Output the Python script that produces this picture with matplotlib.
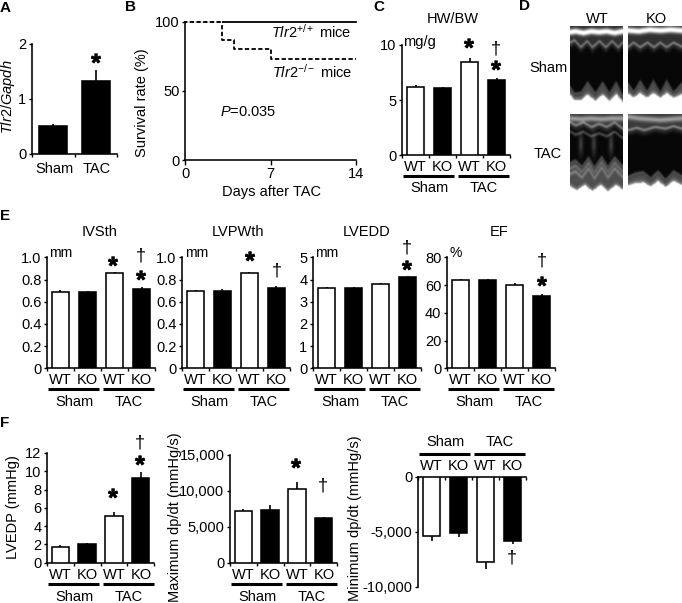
import matplotlib
matplotlib.use("Agg")
import matplotlib.pyplot as plt
import matplotlib.patheffects as pe
import numpy as np

plt.rcParams.update({
    "font.family": ["Liberation Sans", "DejaVu Sans"],
    "font.size": 10.5,
    "mathtext.fontset": "custom",
    "mathtext.rm": "Liberation Sans",
    "mathtext.it": "Liberation Sans:italic",
    "mathtext.bf": "Liberation Sans:bold",
})

W, H = 682, 603
fig = plt.figure(figsize=(W / 100, H / 100), dpi=100, facecolor="white")

# ---------- data ----------
groups = ["Sham", "TAC"]
genotypes = ["WT", "KO", "WT", "KO"]

tlr2_vals = [0.5, 1.33]
tlr2_err = [0.04, 0.19]

surv_days_wt = [0, 14]
surv_wt = [100, 100]
surv_days_ko = [0, 3, 3, 4, 4, 7, 7, 14]
surv_ko = [100, 100, 87, 87, 80, 80, 73.3, 73.3]

hwbw_vals = [6.2, 6.1, 8.5, 6.85]
hwbw_err = [0.15, 0.12, 0.35, 0.15]

ivsth_vals = [0.69, 0.685, 0.86, 0.715]
ivsth_err = [0.015, 0.012, 0.012, 0.015]
lvpwth_vals = [0.695, 0.70, 0.855, 0.72]
lvpwth_err = [0.008, 0.012, 0.014, 0.02]
lvedd_vals = [3.6, 3.6, 3.78, 4.1]
lvedd_err = [0.05, 0.06, 0.06, 0.08]
ef_vals = [63.5, 64, 60, 52]
ef_err = [0.7, 0.7, 1.2, 1.8]

lvedp_vals = [1.75, 2.0, 5.1, 9.25]
lvedp_err = [0.22, 0.14, 0.45, 0.65]
maxdp_vals = [7150, 7300, 10250, 6200]
maxdp_err = [350, 700, 1000, 200]
mindp_vals = [-5400, -5150, -7750, -5800]
mindp_err = [450, 350, 600, 350]

# echo traces (decorative image panels): x, y as fractions of the panel
echo_top = {
    "sw": ([0, .1, .25, .4, .55, .7, .85, 1], [.07, .06, .08, .06, .07, .06, .08, .06]),
    "sk": ([0, .2, .4, .6, .8, 1], [.05, .06, .04, .05, .04, .05]),
    "tw": ([0, .2, .4, .6, .8, 1], [.05, .06, .05, .06, .05, .05]),
    "tk": ([0, .2, .4, .6, .8, 1], [.03, .05, .06, .07, .06, .05]),
}
echo_mid = {
    "sw": ([0, .08, .2, .32, .42, .56, .68, .8, .92, 1], [.2, .17, .26, .18, .26, .18, .26, .18, .26, .2]),
    "sk": ([0, .1, .22, .36, .48, .6, .72, .85, 1], [.25, .2, .26, .2, .26, .2, .26, .2, .25]),
    "tw": ([0, .1, .25, .4, .55, .7, .85, 1], [.1, .14, .1, .16, .12, .16, .1, .18]),
    "tk": ([0, .15, .3, .5, .7, .85, 1], [.2, .17, .2, .16, .18, .15, .18]),
}
echo_low = {
    "sw": ([0, .08, .2, .33, .48, .62, .75, .88, 1], [.76, .84, .83, .7, .84, .7, .84, .7, .86]),
    "sk": ([0, .1, .22, .35, .47, .6, .72, .85, 1], [.72, .82, .68, .82, .68, .83, .68, .83, .72]),
    "tw": ([0, .1, .22, .35, .46, .6, .72, .85, 1], [.62, .59, .67, .55, .68, .54, .67, .55, .66]),
    "tk": ([0, .12, .28, .42, .56, .7, .85, 1], [.8, .76, .74, .82, .73, .84, .73, .79]),
}
echo_base = {
    "sw": ([0, .08, .2, .33, .48, .62, .75, .88, 1], [.86, .92, .92, .85, .93, .85, .93, .84, .94]),
    "sk": ([0, .1, .22, .35, .47, .6, .72, .85, 1], [.84, .89, .83, .89, .83, .89, .83, .89, .85]),
    "tw": ([0, .12, .28, .42, .58, .72, .88, 1], [.92, .97, .9, .98, .9, .98, .9, .96]),
    "tk": ([0, .12, .28, .42, .56, .7, .85, 1], [.91, .88, .87, .92, .85, .93, .85, .9]),
}
echo_columns = {"sw": [], "sk": [], "tw": [.2, .45, .78], "tk": []}

# ---------- helpers ----------
def ptext(x, y, s, size=10.5, **kw):
    kw.setdefault("ha", "center")
    kw.setdefault("va", "center")
    return fig.text(x / W, 1 - y / H, s, fontsize=size, color="black", **kw)

def star(x, y):
    t = fig.text(x / W, 1 - (y + 12) / H, "*", fontsize=18, fontweight="bold",
                 ha="center", va="baseline", color="black")
    t.set_path_effects([pe.withStroke(linewidth=0.5, foreground="black")])

def dagger(x, y):
    ptext(x, y, "\u2020", size=13)

def new_axes(x0, x1, ytop, ybot):
    return fig.add_axes([x0 / W, 1 - ybot / H, (x1 - x0) / W, (ybot - ytop) / H])

def style(ax, n):
    for s in ("top", "right"):
        ax.spines[s].set_visible(False)
    for s in ("left", "bottom"):
        ax.spines[s].set_linewidth(1.15)
    ax.set_xlim(0, n)
    ax.set_xticks(range(n + 1))
    ax.set_xticklabels([])
    ax.tick_params(axis="both", length=2.5, width=1.0, pad=1.5, labelsize=10.5)
    ax.patch.set_alpha(0)

def bars(ax, vals, errs, colors):
    xs = [i + 0.5 for i in range(len(vals))]
    ax.bar(xs, vals, width=0.65, color=colors, edgecolor="black", linewidth=1.15, zorder=3)
    for x, v, e in zip(xs, vals, errs):
        ax.errorbar(x, v, yerr=([0], [e]) if v > 0 else ([e], [0]),
                    color="black", elinewidth=1.2, capsize=0, zorder=2)

four = ["white", "black", "white", "black"]

def group_labels(x0, wt_y, line_y, grp_y):
    dx = 108 / 4
    for i, g in enumerate(genotypes):
        ptext(x0 + dx * (i + 0.5), wt_y, g)
    for a, b in ((1, 52), (56, 107)):
        fig.add_artist(plt.Line2D([(x0 + a) / W, (x0 + b) / W], [1 - line_y / H] * 2,
                                  color="black", lw=2.2, solid_capstyle="butt"))
    ptext(x0 + 27, grp_y, groups[0])
    ptext(x0 + 82, grp_y, groups[1])

def gauss(d, s):
    return np.exp(-0.5 * (d / s) ** 2)

def echo_image(key, w, h):
    x = np.linspace(0, 1, w)[None, :]
    y = np.linspace(0, 1, h)[:, None]
    top = np.interp(x, *echo_top[key])
    mid = np.interp(x, *echo_mid[key])
    low = np.interp(x, *echo_low[key])
    base = np.interp(x, *echo_base[key])
    img = np.full((h, w), 0.03)
    sham = key[0] == "s"
    img += (0.16 if sham else 0.2) * np.clip((mid + 0.04 - y) / 0.08, 0, 1)
    img += (1.0 if sham else 0.4) * gauss(y - top, 0.024)
    img += 0.42 * gauss(y - mid, 0.012) + 0.12 * gauss(y - mid - 0.04, 0.02)
    # posterior wall band
    img += 0.28 * np.clip((y - low) / 0.04, 0, 1) + 0.3 * gauss(y - low, 0.012)
    img += 0.22 * np.clip((y - base + 0.05) / 0.05, 0, 1)
    if key == "tw":
        img += 0.3 * gauss(y - mid - 0.12, 0.012)
        img += 0.22 * gauss(y - low - 0.14, 0.015) + 0.15 * gauss(y - low - 0.07, 0.012)
        for c in echo_columns[key]:
            img += 0.22 * gauss(x - c, 0.03) * gauss(y - 0.38, 0.1)
    img = np.where(y > base, 1.0, img)
    img = np.clip(img, 0, 1)
    # soften with a small box filter, as the scan is blurred
    k = np.array([.25, .5, .25])
    img = np.apply_along_axis(lambda r: np.convolve(np.r_[r[0], r, r[-1]], k, "valid"), 0, img)
    img = np.apply_along_axis(lambda r: np.convolve(np.r_[r[0], r, r[-1]], k, "valid"), 1, img)
    return img

# ---------- A ----------
ptext(5, 8, "A", fontweight="bold", size=11)
ax = new_axes(32, 117, 44, 154)
style(ax, 2)
bars(ax, tlr2_vals, tlr2_err, ["black", "black"])
ax.set_ylim(0, 2)
ax.set_yticks([0, 1, 2])
ptext(8, 97, r"$\mathit{Tlr2/Gapdh}$", rotation=90)
ptext(54, 169, groups[0])
ptext(97, 169, groups[1])
star(96, 59)

# ---------- B ----------
ptext(130, 7, "B", fontweight="bold", size=11)
ax = new_axes(185, 356, 21.7, 160)
style(ax, 14)
ax.set_xticks([0, 7, 14])
ax.set_xticklabels(["0", "7", "14"])
ax.tick_params(axis="x", length=3.5)
ax.set_ylim(0, 100)
ax.set_yticks([0, 50, 100])
ax.plot(surv_days_wt, surv_wt, color="black", lw=1.3, clip_on=False, zorder=3)
ax.plot(surv_days_ko, surv_ko, color="black", lw=1.3, ls=(0, (2.4, 1.3)),
        clip_on=False, zorder=4)
ax.plot(surv_days_ko[:2], surv_ko[:2], color="white", lw=1.3, ls=(2.4, (1.3, 2.4)),
        clip_on=False, zorder=5)
ptext(142, 103, "Survival rate (%)", rotation=90)
ptext(272, 192, "Days after TAC")
ptext(311, 32, r"$\mathit{Tlr2}^{+/+}$ mice")
ptext(312, 72, r"$\mathit{Tlr2}^{-/-}$ mice")
ptext(248, 112, r"$\mathit{P}$=0.035")

# ---------- C ----------
ptext(379, 7, "C", fontweight="bold", size=11)
ax = new_axes(402, 510, 45, 155)
style(ax, 4)
bars(ax, hwbw_vals, hwbw_err, four)
ax.set_ylim(0, 10)
ax.set_yticks([0, 5, 10])
ptext(453, 19, "HW/BW")
ptext(419, 42, "mg/g")
group_labels(402, 167, 176, 188)
star(469, 44)
star(496, 66)
dagger(496, 49)

# ---------- D ----------
ptext(525, 6, "D", fontweight="bold", size=11)
ptext(597, 19, "WT")
ptext(656, 19, "KO")
ptext(548, 68, groups[0])
ptext(548, 154, groups[1])
panels = {"sw": (570, 623, 26, 107), "sk": (628, 682, 26, 107),
          "tw": (570, 623, 114, 193), "tk": (628, 682, 114, 193)}
for key, (x0, x1, y0, y1) in panels.items():
    ax = new_axes(x0, x1, y0, y1)
    ax.imshow(echo_image(key, x1 - x0, y1 - y0), cmap="gray", vmin=0, vmax=1,
              aspect="auto", interpolation="bilinear")
    ax.set_xticks([])
    ax.set_yticks([])
    for s in ax.spines.values():
        s.set_visible(False)

# ---------- E ----------
ptext(5, 216, "E", fontweight="bold", size=11)
ypanels = [
    (47, 100, "IVSth", ivsth_vals, ivsth_err, (0, 1), [0, .2, .4, .6, .8, 1.0], "{:.1f}", "mm", 61),
    (182, 238, "LVPWth", lvpwth_vals, lvpwth_err, (0, 1), [0, .2, .4, .6, .8, 1.0], "{:.1f}", "mm", 197),
    (313, 367, "LVEDD", lvedd_vals, lvedd_err, (0, 5), [0, 1, 2, 3, 4, 5], "{:d}", "mm", 327),
    (447, 499, "EF", ef_vals, ef_err, (0, 80), [0, 20, 40, 60, 80], "{:d}", "%", 456),
]
for x0, tx, title, vals, errs, yl, yt, fmt, unit, ux in ypanels:
    ax = new_axes(x0, x0 + 108, 257.3, 368.3)
    style(ax, 4)
    bars(ax, vals, errs, four)
    ax.set_ylim(*yl)
    ax.set_yticks(yt)
    labs = [fmt.format(v) for v in yt]
    if fmt == "{:.1f}":
        labs[0] = "0"
    ax.set_yticklabels(labs)
    ptext(tx, 232, title)
    ptext(ux, 253, unit, size=10)
    group_labels(x0, 380, 389, 402)
star(113, 262)
star(141, 276)
dagger(141, 256)
star(250, 257)
dagger(277, 271)
star(407, 266)
dagger(407, 248)
star(542, 282)
dagger(542, 261)

# ---------- F ----------
ptext(5, 423, "F", fontweight="bold", size=11)
ax = new_axes(47, 154, 453, 562.7)
style(ax, 4)
bars(ax, lvedp_vals, lvedp_err, four)
ax.set_ylim(0, 12)
ax.set_yticks([0, 2, 4, 6, 8, 10, 12])
ptext(13, 507, "LVEDP (mmHg)", rotation=90)
group_labels(47, 575, 584, 597)
star(113, 494)
star(140, 461)
dagger(140, 443)

ax = new_axes(230, 337, 455, 562.7)
style(ax, 4)
bars(ax, maxdp_vals, maxdp_err, four)
ax.set_ylim(0, 15000)
ax.set_yticks([0, 5000, 10000, 15000])
ax.set_yticklabels(["0", "5,000", "10,000", "15,000"])
ptext(175, 517, "Maximum dp/dt (mmHg/s)", rotation=90)
group_labels(230, 575, 584, 597)
star(296, 464)
dagger(323, 486)

ax = new_axes(418, 526, 476.7, 586.7)
style(ax, 4)
ax.spines["bottom"].set_visible(False)
ax.spines["top"].set_visible(True)
ax.spines["top"].set_linewidth(1.15)
ax.xaxis.tick_top()
ax.tick_params(axis="x", direction="in", length=2.5, width=1.0)
bars(ax, mindp_vals, mindp_err, four)
ax.set_ylim(-10000, 0)
ax.set_yticks([-10000, -5000, 0])
ax.set_yticklabels(["-10,000", "-5,000", "0"])
ptext(355, 518, "Minimum dp/dt (mmHg/s)", rotation=90)
group_labels(418, 466, 454, 442)
dagger(512, 558)

fig.savefig("out.png", dpi=100, facecolor="white")
